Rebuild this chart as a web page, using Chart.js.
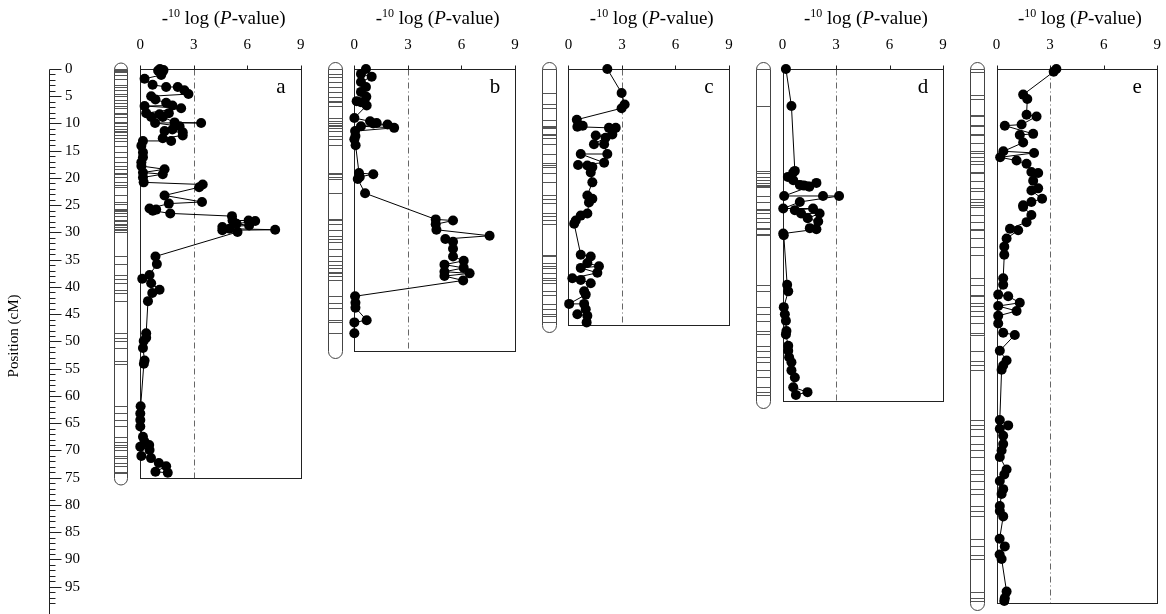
<!DOCTYPE html>
<html>
<head>
<meta charset="utf-8">
<script src="https://cdn.jsdelivr.net/npm/chart.js@4.4.0/dist/chart.umd.min.js"></script>
<style>
  body { margin: 0; background: #fff; }
  #wrap { position: relative; width: 1166px; height: 614px; }
</style>
</head>
<body>
<div id="wrap"><canvas id="myChart" width="1166" height="614"></canvas></div>
<script>
// panels, chromosome lengths (cM), axis ticks
var letters = ['a', 'b', 'c', 'd', 'e'];
var lengths = [75, 51.8, 46.9, 61, 98];
var xTicks = [0, 3, 6, 9];
var posTicks = [0, 5, 10, 15, 20, 25, 30, 35, 40, 45, 50, 55, 60, 65, 70, 75, 80, 85, 90, 95];
var threshold = 3;

// marker position (cM) and -10log(P) per chromosome
var posA = [0, 0.2, 0.3, 0.5, 1.1, 1.8, 2.9, 3.3, 3.3, 3.9, 4.6, 5.0, 5.6, 6.2, 6.7, 6.8, 7.2, 8.1, 8.1, 8.3, 8.8, 8.8, 9.8, 9.9, 9.9, 10.5, 11.1, 11.4, 11.6, 12.2, 12.7, 13.2, 13.2, 14.1, 15.3, 16.2, 17.1, 17.8, 18.4, 19.0, 19.3, 19.9, 20.8, 21.2, 21.7, 23.2, 24.4, 24.7, 25.6, 25.8, 26.0, 26.5, 27.0, 27.8, 27.8, 27.9, 28.4, 28.7, 29.0, 29.3, 29.5, 29.6, 29.9, 34.4, 35.8, 37.8, 38.5, 39.3, 40.5, 41.1, 42.6, 48.5, 49.3, 49.9, 51.2, 53.5, 54.1, 61.9, 63.2, 64.4, 65.6, 67.5, 68.4, 69.0, 69.3, 69.9, 71.0, 71.4, 72.3, 72.9, 73.9, 74.1];
var valA = [1.1, 1.3, 1.0, 1.25, 1.17, 0.24, 0.69, 1.45, 2.1, 2.47, 2.7, 0.61, 0.85, 1.45, 1.8, 0.24, 2.29, 0.33, 1.6, 1.08, 0.61, 1.26, 1.92, 3.41, 0.83, 2.2, 1.8, 1.36, 2.38, 2.38, 1.26, 1.73, 0.15, 0.06, 0.15, 0.15, 0.06, 0.06, 1.36, 0.15, 1.26, 0.15, 0.19, 3.5, 3.3, 1.36, 3.46, 1.6, 0.52, 0.89, 0.7, 1.68, 5.14, 5.17, 6.07, 6.44, 5.4, 6.1, 4.6, 5.0, 7.56, 4.6, 5.45, 0.85, 0.93, 0.52, 0.11, 0.61, 1.08, 0.67, 0.43, 0.33, 0.33, 0.19, 0.15, 0.24, 0.2, 0.02, 0, 0, 0, 0.15, 0.24, 0.5, 0, 0.52, 0.06, 0.6, 1.04, 1.45, 0.85, 1.54];

var posB = [0, 0.9, 1.4, 2.4, 3.3, 4.2, 5.1, 5.9, 6.1, 6.7, 9.0, 9.6, 9.9, 10.0, 10.2, 10.5, 10.8, 11.4, 12.3, 12.9, 14.0, 19.1, 19.3, 19.8, 20.2, 22.8, 27.6, 27.8, 28.5, 29.5, 30.6, 31.2, 31.7, 33.0, 34.4, 35.2, 35.9, 36.5, 37.2, 37.5, 38.0, 38.8, 41.7, 42.9, 43.8, 46.1, 46.5, 48.5];
var valB = [0.65, 0.37, 0.97, 0.37, 0.65, 0.37, 0.67, 0.13, 0.37, 0.69, 0, 0.88, 1.25, 1.06, 1.86, 0.37, 2.23, 0.04, 0.06, 0, 0.07, 0.26, 1.06, 0.3, 0.19, 0.6, 4.56, 5.53, 4.56, 4.6, 7.58, 5.1, 5.53, 5.53, 5.53, 6.13, 5.05, 6.13, 5.05, 6.46, 5.05, 6.1, 0.04, 0.06, 0.06, 0.69, 0, 0];

var posC = [0, 4.4, 6.5, 7.2, 9.3, 10.4, 10.6, 10.8, 10.8, 12.0, 12.2, 12.6, 13.8, 13.8, 15.6, 15.6, 17.2, 17.6, 17.7, 18.0, 19.0, 20.8, 23.2, 23.8, 24.5, 26.5, 26.9, 27.8, 28.4, 34.1, 34.4, 35.6, 36.2, 36.5, 37.4, 38.4, 38.7, 39.3, 40.8, 41.4, 43.1, 43.1, 44.1, 45.0, 45.3, 46.5];
var valC = [2.18, 2.98, 3.15, 2.98, 0.47, 0.8, 0.5, 2.27, 2.65, 2.46, 1.53, 2.08, 1.43, 2.0, 2.18, 0.69, 2.0, 0.54, 1.06, 1.34, 1.25, 1.34, 1.06, 1.34, 1.15, 1.06, 0.69, 0.41, 0.32, 0.69, 1.25, 1.06, 1.71, 0.69, 1.62, 0.22, 0.69, 1.25, 0.88, 0.97, 0.04, 0.88, 0.97, 0.5, 1.06, 1.02];

var posD = [0, 6.8, 18.7, 19.0, 19.8, 20.4, 20.9, 21.3, 21.4, 21.6, 23.3, 23.3, 23.3, 24.4, 25.6, 25.6, 25.9, 26.5, 26.5, 27.4, 28.0, 29.2, 29.4, 30.2, 30.5, 39.6, 40.8, 43.7, 45.0, 46.2, 48.1, 48.7, 50.8, 51.7, 52.9, 53.8, 55.3, 56.6, 58.4, 59.3, 59.8];
var valD = [0.19, 0.5, 0.69, 0.6, 0.3, 0.6, 1.9, 0.97, 1.2, 1.5, 0.09, 2.27, 3.17, 0.97, 0.04, 1.71, 0.69, 1.04, 2.08, 1.41, 2.0, 1.53, 1.9, 0.04, 0.07, 0.26, 0.32, 0.07, 0.13, 0.19, 0.22, 0.19, 0.32, 0.32, 0.37, 0.5, 0.5, 0.69, 0.6, 1.4, 0.75];

var posE = [0, 0.5, 4.7, 5.5, 8.4, 8.7, 10.2, 10.4, 11.9, 12.1, 13.5, 15.1, 15.4, 16.2, 16.8, 17.4, 18.9, 19.1, 20.5, 21.9, 22.3, 23.8, 24.4, 25.0, 25.3, 26.8, 28.1, 29.3, 29.6, 31.1, 32.6, 34.1, 38.4, 39.6, 41.4, 41.7, 42.9, 43.5, 44.4, 45.3, 46.7, 48.4, 48.8, 51.7, 53.5, 54.4, 55.2, 64.4, 65.4, 66.0, 67.3, 68.8, 70.0, 71.2, 73.5, 74.4, 75.6, 77.1, 78.0, 80.2, 81.1, 82.1, 86.2, 87.6, 89.1, 89.9, 95.9, 97.1, 97.6];
var valE = [3.35, 3.2, 1.49, 1.72, 1.68, 2.24, 1.4, 0.46, 2.05, 1.3, 1.49, 0.38, 2.1, 0.2, 1.12, 1.68, 1.95, 2.33, 2.05, 2.33, 1.95, 2.55, 1.95, 1.49, 1.49, 1.95, 1.68, 0.75, 1.21, 0.56, 0.43, 0.43, 0.37, 0.37, 0.09, 0.65, 1.3, 0.09, 1.12, 0.09, 0.09, 0.37, 1.02, 0.18, 0.56, 0.37, 0.28, 0.18, 0.65, 0.18, 0.37, 0.37, 0.28, 0.18, 0.56, 0.43, 0.18, 0.37, 0.28, 0.18, 0.18, 0.37, 0.17, 0.46, 0.17, 0.28, 0.56, 0.46, 0.43];

var allPos = [posA, posB, posC, posD, posE];
var allVal = [valA, valB, valC, valD, valE];
var panelGap = 12;   // panels share one x scale, shifted by this many units
var serif = '"Liberation Serif", "DejaVu Serif", serif';

var datasets = allPos.map(function (pos, i) {
  return {
    data: pos.map(function (p, k) { return { x: allVal[i][k] + i * panelGap, y: p }; }),
    showLine: true,
    borderColor: '#000',
    borderWidth: 1,
    pointRadius: 5,
    pointBackgroundColor: '#000',
    pointBorderColor: '#000',
    pointBorderWidth: 0,
    tension: 0,
    clip: false
  };
});

function hline(ctx, x1, x2, y) { ctx.beginPath(); ctx.moveTo(x1, y); ctx.lineTo(x2, y); ctx.stroke(); }
function vline(ctx, x, y1, y2) { ctx.beginPath(); ctx.moveTo(x, y1); ctx.lineTo(x, y2); ctx.stroke(); }

function drawTitle(ctx, cx, y) {
  var parts = [
    { t: '-', f: '19px ' + serif, dy: 0 },
    { t: '10', f: '12px ' + serif, dy: -7 },
    { t: ' log (', f: '19px ' + serif, dy: 0 },
    { t: 'P', f: 'italic 19px ' + serif, dy: 0 },
    { t: '-value)', f: '19px ' + serif, dy: 0 }
  ];
  var w = 0;
  parts.forEach(function (p) { ctx.font = p.f; p.w = ctx.measureText(p.t).width; w += p.w; });
  var x = cx - w / 2;
  ctx.textAlign = 'left';
  ctx.textBaseline = 'alphabetic';
  parts.forEach(function (p) { ctx.font = p.f; ctx.fillText(p.t, x, y + p.dy); x += p.w; });
}

var panelPlugin = {
  id: 'panels',
  beforeDatasetsDraw: function (chart) {
    var ctx = chart.ctx, xs = chart.scales.x, ys = chart.scales.y;
    ctx.save();
    ctx.lineWidth = 1;
    letters.forEach(function (letter, i) {
      var off = i * panelGap;
      var l = Math.round(xs.getPixelForValue(off)) + 0.5;
      var r = Math.round(xs.getPixelForValue(off + 9)) + 0.5;
      var t = Math.round(ys.getPixelForValue(0)) + 0.5;
      var b = Math.round(ys.getPixelForValue(lengths[i])) + 0.5;

      // threshold line
      ctx.strokeStyle = '#666';
      ctx.setLineDash([6, 3, 1, 3]);
      var tx = Math.round(xs.getPixelForValue(off + threshold)) + 0.5;
      vline(ctx, tx, t, b);
      ctx.setLineDash([]);

      // frame + ticks
      ctx.strokeStyle = '#222';
      ctx.strokeRect(l, t, r - l, b - t);
      xTicks.forEach(function (v) {
        var x = Math.round(xs.getPixelForValue(off + v)) + 0.5;
        vline(ctx, x, t, t - 4);
      });

      // chromosome bar
      var c0 = Math.round(xs.getPixelForValue(off - 1.5)) + 0.5;
      var c1 = Math.round(xs.getPixelForValue(off - 0.72)) + 0.5;
      var rad = (c1 - c0) / 2, cx = (c0 + c1) / 2;
      ctx.beginPath();
      ctx.moveTo(c0, b);
      ctx.lineTo(c0, t);
      ctx.arc(cx, t, rad, Math.PI, 0);
      ctx.lineTo(c1, b);
      ctx.arc(cx, b, rad, 0, Math.PI);
      ctx.closePath();
      ctx.fillStyle = '#fff';
      ctx.fill();
      ctx.strokeStyle = '#444';
      ctx.stroke();
      ctx.strokeStyle = '#555';
      allPos[i].forEach(function (p) {
        var y = Math.round(ys.getPixelForValue(p)) + 0.5;
        hline(ctx, c0, c1, y);
      });
    });
    ctx.restore();
  },
  afterDraw: function (chart) {
    var ctx = chart.ctx, xs = chart.scales.x, ys = chart.scales.y;
    ctx.save();
    ctx.fillStyle = '#000';
    letters.forEach(function (letter, i) {
      var off = i * panelGap;
      var l = xs.getPixelForValue(off), r = xs.getPixelForValue(off + 9);
      drawTitle(ctx, (l + r) / 2 + 3, 24);
      ctx.font = '15px ' + serif;
      ctx.textAlign = 'center';
      ctx.textBaseline = 'middle';
      xTicks.forEach(function (v) {
        ctx.fillText(String(v), xs.getPixelForValue(off + v), 45);
      });
      ctx.font = '21px ' + serif;
      ctx.fillText(letter, r - 20, 87);
    });

    // position axis
    var ax = 49.5;
    ctx.strokeStyle = '#222';
    ctx.lineWidth = 1;
    var y0 = Math.round(ys.getPixelForValue(0)) + 0.5;
    vline(ctx, ax, y0, 614);
    for (var k = 0; k <= 98; k++) {
      var y = Math.round(ys.getPixelForValue(k)) + 0.5;
      hline(ctx, ax, ax + (k % 5 === 0 ? 12 : 6), y);
    }
    ctx.font = '15px ' + serif;
    ctx.textAlign = 'left';
    ctx.textBaseline = 'middle';
    posTicks.forEach(function (v) {
      ctx.fillText(String(v), 65, ys.getPixelForValue(v));
    });
    ctx.translate(14, 336);
    ctx.rotate(-Math.PI / 2);
    ctx.textAlign = 'center';
    ctx.fillText('Position (cM)', 0, 0);
    ctx.restore();
  }
};

var pxPerUnit = 17.92;
var xMin = -(140.7 - 49) / pxPerUnit;
var chrt = new Chart(document.getElementById('myChart'), {
  type: 'scatter',
  data: { datasets: datasets },
  options: {
    responsive: false,
    animation: false,
    devicePixelRatio: 1,
    layout: { padding: { left: 49, top: 69, right: 0, bottom: 0 } },
    scales: {
      x: { type: 'linear', display: false, min: xMin, max: xMin + 1117 / pxPerUnit },
      y: { type: 'linear', display: false, reverse: true, min: 0, max: 545 / 5.5 }
    },
    plugins: { legend: { display: false }, tooltip: { enabled: false } }
  },
  plugins: [panelPlugin]
});
</script>
</body>
</html>
